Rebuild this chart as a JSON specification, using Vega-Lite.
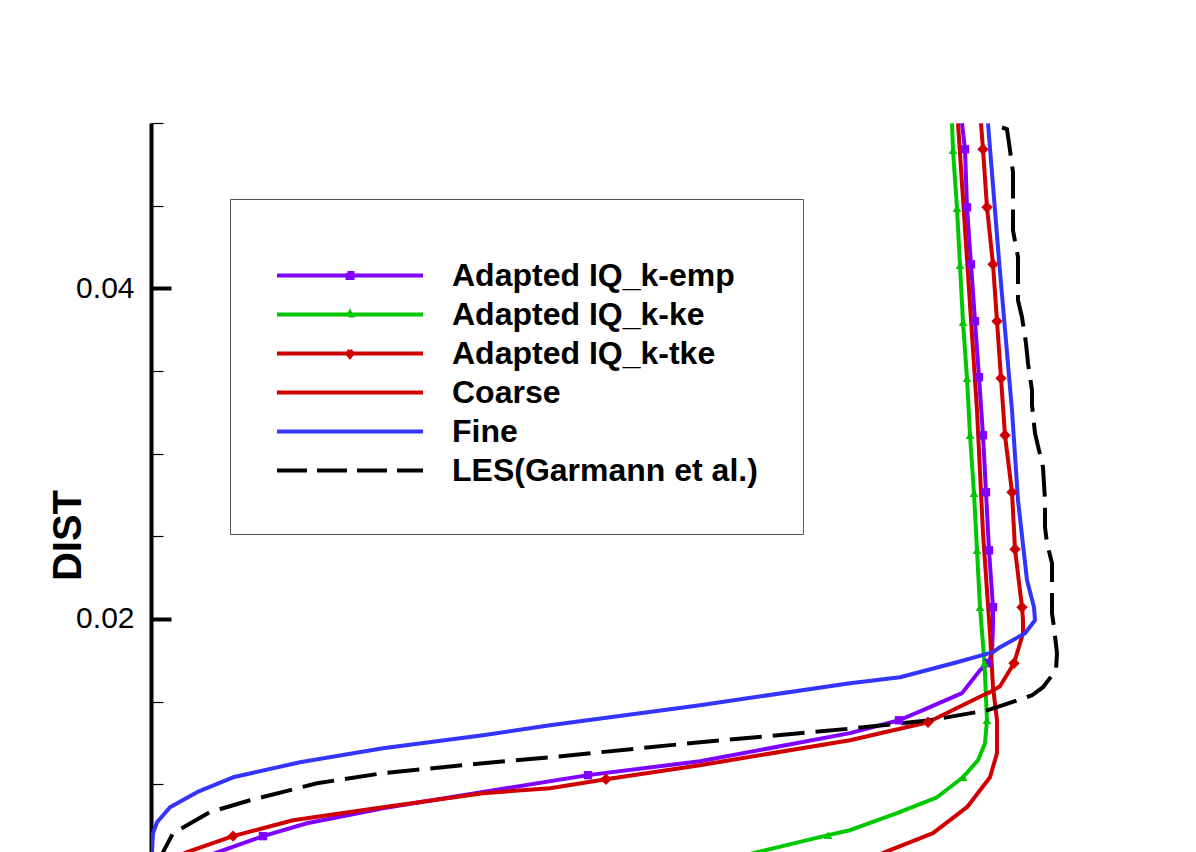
{
  "$schema": "https://vega.github.io/schema/vega-lite/v6.json",
  "width": 1045,
  "height": 729,
  "autosize": {"type": "none"},
  "padding": {"left": 151, "top": 123, "right": 0, "bottom": 0},
  "background": "white",
  "config": {"view": {"stroke": null}},
  "datasets": {
    "curves": [
      {"s": "Adapted IQ_k-emp", "x": 0.811, "y": 0.04998},
      {"s": "Adapted IQ_k-emp", "x": 0.814, "y": 0.04841},
      {"s": "Adapted IQ_k-emp", "x": 0.816, "y": 0.0449},
      {"s": "Adapted IQ_k-emp", "x": 0.82, "y": 0.04145},
      {"s": "Adapted IQ_k-emp", "x": 0.824, "y": 0.03801},
      {"s": "Adapted IQ_k-emp", "x": 0.828, "y": 0.03462},
      {"s": "Adapted IQ_k-emp", "x": 0.832, "y": 0.03111},
      {"s": "Adapted IQ_k-emp", "x": 0.835, "y": 0.02766},
      {"s": "Adapted IQ_k-emp", "x": 0.838, "y": 0.02415},
      {"s": "Adapted IQ_k-emp", "x": 0.842, "y": 0.02071},
      {"s": "Adapted IQ_k-emp", "x": 0.842, "y": 0.01962},
      {"s": "Adapted IQ_k-emp", "x": 0.841, "y": 0.01792},
      {"s": "Adapted IQ_k-emp", "x": 0.837, "y": 0.01732},
      {"s": "Adapted IQ_k-emp", "x": 0.829, "y": 0.0169},
      {"s": "Adapted IQ_k-emp", "x": 0.811, "y": 0.01551},
      {"s": "Adapted IQ_k-emp", "x": 0.772, "y": 0.01448},
      {"s": "Adapted IQ_k-emp", "x": 0.748, "y": 0.01387},
      {"s": "Adapted IQ_k-emp", "x": 0.699, "y": 0.01309},
      {"s": "Adapted IQ_k-emp", "x": 0.549, "y": 0.01139},
      {"s": "Adapted IQ_k-emp", "x": 0.437, "y": 0.01055},
      {"s": "Adapted IQ_k-emp", "x": 0.349, "y": 0.0097},
      {"s": "Adapted IQ_k-emp", "x": 0.232, "y": 0.00855},
      {"s": "Adapted IQ_k-emp", "x": 0.156, "y": 0.00764},
      {"s": "Adapted IQ_k-emp", "x": 0.112, "y": 0.00686},
      {"s": "Adapted IQ_k-emp", "x": 0.067, "y": 0.00589},
      {"s": "Adapted IQ_k-emp", "x": 0.039, "y": 0.00528},

      {"s": "Adapted IQ_k-ke", "x": 0.801, "y": 0.04998},
      {"s": "Adapted IQ_k-ke", "x": 0.802, "y": 0.04835},
      {"s": "Adapted IQ_k-ke", "x": 0.806, "y": 0.04484},
      {"s": "Adapted IQ_k-ke", "x": 0.809, "y": 0.04139},
      {"s": "Adapted IQ_k-ke", "x": 0.812, "y": 0.03795},
      {"s": "Adapted IQ_k-ke", "x": 0.816, "y": 0.03456},
      {"s": "Adapted IQ_k-ke", "x": 0.819, "y": 0.03111},
      {"s": "Adapted IQ_k-ke", "x": 0.823, "y": 0.0276},
      {"s": "Adapted IQ_k-ke", "x": 0.826, "y": 0.02415},
      {"s": "Adapted IQ_k-ke", "x": 0.829, "y": 0.02071},
      {"s": "Adapted IQ_k-ke", "x": 0.8335, "y": 0.01732},
      {"s": "Adapted IQ_k-ke", "x": 0.836, "y": 0.01387},
      {"s": "Adapted IQ_k-ke", "x": 0.834, "y": 0.01248},
      {"s": "Adapted IQ_k-ke", "x": 0.827, "y": 0.01145},
      {"s": "Adapted IQ_k-ke", "x": 0.812, "y": 0.01042},
      {"s": "Adapted IQ_k-ke", "x": 0.786, "y": 0.00921},
      {"s": "Adapted IQ_k-ke", "x": 0.746, "y": 0.00825},
      {"s": "Adapted IQ_k-ke", "x": 0.699, "y": 0.00722},
      {"s": "Adapted IQ_k-ke", "x": 0.677, "y": 0.00692},
      {"s": "Adapted IQ_k-ke", "x": 0.606, "y": 0.00589},
      {"s": "Adapted IQ_k-ke", "x": 0.569, "y": 0.00528},

      {"s": "Adapted IQ_k-tke", "x": 0.83, "y": 0.04998},
      {"s": "Adapted IQ_k-tke", "x": 0.832, "y": 0.04841},
      {"s": "Adapted IQ_k-tke", "x": 0.836, "y": 0.0449},
      {"s": "Adapted IQ_k-tke", "x": 0.842, "y": 0.04145},
      {"s": "Adapted IQ_k-tke", "x": 0.846, "y": 0.03801},
      {"s": "Adapted IQ_k-tke", "x": 0.85, "y": 0.03456},
      {"s": "Adapted IQ_k-tke", "x": 0.854, "y": 0.03111},
      {"s": "Adapted IQ_k-tke", "x": 0.861, "y": 0.02766},
      {"s": "Adapted IQ_k-tke", "x": 0.864, "y": 0.02421},
      {"s": "Adapted IQ_k-tke", "x": 0.871, "y": 0.02071},
      {"s": "Adapted IQ_k-tke", "x": 0.872, "y": 0.01992},
      {"s": "Adapted IQ_k-tke", "x": 0.872, "y": 0.01913},
      {"s": "Adapted IQ_k-tke", "x": 0.867, "y": 0.01811},
      {"s": "Adapted IQ_k-tke", "x": 0.863, "y": 0.01732},
      {"s": "Adapted IQ_k-tke", "x": 0.849, "y": 0.01593},
      {"s": "Adapted IQ_k-tke", "x": 0.839, "y": 0.01557},
      {"s": "Adapted IQ_k-tke", "x": 0.832, "y": 0.01538},
      {"s": "Adapted IQ_k-tke", "x": 0.777, "y": 0.01375},
      {"s": "Adapted IQ_k-tke", "x": 0.699, "y": 0.01266},
      {"s": "Adapted IQ_k-tke", "x": 0.549, "y": 0.01115},
      {"s": "Adapted IQ_k-tke", "x": 0.455, "y": 0.0103},
      {"s": "Adapted IQ_k-tke", "x": 0.399, "y": 0.00976},
      {"s": "Adapted IQ_k-tke", "x": 0.332, "y": 0.00946},
      {"s": "Adapted IQ_k-tke", "x": 0.232, "y": 0.00861},
      {"s": "Adapted IQ_k-tke", "x": 0.142, "y": 0.00782},
      {"s": "Adapted IQ_k-tke", "x": 0.082, "y": 0.00686},
      {"s": "Adapted IQ_k-tke", "x": 0.036, "y": 0.00589},
      {"s": "Adapted IQ_k-tke", "x": 0.014, "y": 0.00528},

      {"s": "Coarse", "x": 0.807, "y": 0.04998},
      {"s": "Coarse", "x": 0.826, "y": 0.03262},
      {"s": "Coarse", "x": 0.832, "y": 0.02518},
      {"s": "Coarse", "x": 0.839, "y": 0.01913},
      {"s": "Coarse", "x": 0.842, "y": 0.01587},
      {"s": "Coarse", "x": 0.846, "y": 0.01387},
      {"s": "Coarse", "x": 0.846, "y": 0.01188},
      {"s": "Coarse", "x": 0.839, "y": 0.01042},
      {"s": "Coarse", "x": 0.816, "y": 0.00861},
      {"s": "Coarse", "x": 0.782, "y": 0.00704},
      {"s": "Coarse", "x": 0.739, "y": 0.00601},
      {"s": "Coarse", "x": 0.709, "y": 0.00528},

      {"s": "Fine", "x": 0.837, "y": 0.04998},
      {"s": "Fine", "x": 0.848, "y": 0.0417},
      {"s": "Fine", "x": 0.861, "y": 0.03262},
      {"s": "Fine", "x": 0.867, "y": 0.02718},
      {"s": "Fine", "x": 0.876, "y": 0.02234},
      {"s": "Fine", "x": 0.883, "y": 0.02071},
      {"s": "Fine", "x": 0.884, "y": 0.01992},
      {"s": "Fine", "x": 0.874, "y": 0.01913},
      {"s": "Fine", "x": 0.849, "y": 0.01829},
      {"s": "Fine", "x": 0.842, "y": 0.01799},
      {"s": "Fine", "x": 0.806, "y": 0.01738},
      {"s": "Fine", "x": 0.749, "y": 0.01647},
      {"s": "Fine", "x": 0.699, "y": 0.01611},
      {"s": "Fine", "x": 0.549, "y": 0.01478},
      {"s": "Fine", "x": 0.399, "y": 0.01357},
      {"s": "Fine", "x": 0.332, "y": 0.01296},
      {"s": "Fine", "x": 0.232, "y": 0.01218},
      {"s": "Fine", "x": 0.149, "y": 0.01133},
      {"s": "Fine", "x": 0.082, "y": 0.01042},
      {"s": "Fine", "x": 0.046, "y": 0.00952},
      {"s": "Fine", "x": 0.019, "y": 0.00861},
      {"s": "Fine", "x": 0.006, "y": 0.0077},
      {"s": "Fine", "x": 0.002, "y": 0.00704},
      {"s": "Fine", "x": 0.001, "y": 0.00589},
      {"s": "Fine", "x": 0.0005, "y": 0.0048},

      {"s": "LES(Garmann et al.)", "x": 0.851, "y": 0.04974},
      {"s": "LES(Garmann et al.)", "x": 0.856, "y": 0.04962},
      {"s": "LES(Garmann et al.)", "x": 0.859, "y": 0.04835},
      {"s": "LES(Garmann et al.)", "x": 0.862, "y": 0.04702},
      {"s": "LES(Garmann et al.)", "x": 0.862, "y": 0.04351},
      {"s": "LES(Garmann et al.)", "x": 0.867, "y": 0.04188},
      {"s": "LES(Garmann et al.)", "x": 0.867, "y": 0.03928},
      {"s": "LES(Garmann et al.)", "x": 0.871, "y": 0.03825},
      {"s": "LES(Garmann et al.)", "x": 0.875, "y": 0.03668},
      {"s": "LES(Garmann et al.)", "x": 0.877, "y": 0.03547},
      {"s": "LES(Garmann et al.)", "x": 0.881, "y": 0.03383},
      {"s": "LES(Garmann et al.)", "x": 0.881, "y": 0.03293},
      {"s": "LES(Garmann et al.)", "x": 0.884, "y": 0.03123},
      {"s": "LES(Garmann et al.)", "x": 0.892, "y": 0.02917},
      {"s": "LES(Garmann et al.)", "x": 0.894, "y": 0.02718},
      {"s": "LES(Garmann et al.)", "x": 0.894, "y": 0.02555},
      {"s": "LES(Garmann et al.)", "x": 0.896, "y": 0.02458},
      {"s": "LES(Garmann et al.)", "x": 0.901, "y": 0.02337},
      {"s": "LES(Garmann et al.)", "x": 0.901, "y": 0.02034},
      {"s": "LES(Garmann et al.)", "x": 0.903, "y": 0.0195},
      {"s": "LES(Garmann et al.)", "x": 0.906, "y": 0.01792},
      {"s": "LES(Garmann et al.)", "x": 0.905, "y": 0.0169},
      {"s": "LES(Garmann et al.)", "x": 0.892, "y": 0.01587},
      {"s": "LES(Garmann et al.)", "x": 0.881, "y": 0.01538},
      {"s": "LES(Garmann et al.)", "x": 0.837, "y": 0.01448},
      {"s": "LES(Garmann et al.)", "x": 0.779, "y": 0.01387},
      {"s": "LES(Garmann et al.)", "x": 0.704, "y": 0.01339},
      {"s": "LES(Garmann et al.)", "x": 0.549, "y": 0.01254},
      {"s": "LES(Garmann et al.)", "x": 0.399, "y": 0.01163},
      {"s": "LES(Garmann et al.)", "x": 0.332, "y": 0.01127},
      {"s": "LES(Garmann et al.)", "x": 0.232, "y": 0.01067},
      {"s": "LES(Garmann et al.)", "x": 0.166, "y": 0.01006},
      {"s": "LES(Garmann et al.)", "x": 0.099, "y": 0.00903},
      {"s": "LES(Garmann et al.)", "x": 0.059, "y": 0.00831},
      {"s": "LES(Garmann et al.)", "x": 0.036, "y": 0.00752},
      {"s": "LES(Garmann et al.)", "x": 0.022, "y": 0.00704},
      {"s": "LES(Garmann et al.)", "x": 0.012, "y": 0.00589},
      {"s": "LES(Garmann et al.)", "x": 0.007, "y": 0.0048}
    ],
    "markers": [
      {"s": "Adapted IQ_k-emp", "x": 0.814, "y": 0.04841},
      {"s": "Adapted IQ_k-emp", "x": 0.816, "y": 0.0449},
      {"s": "Adapted IQ_k-emp", "x": 0.82, "y": 0.04145},
      {"s": "Adapted IQ_k-emp", "x": 0.824, "y": 0.03801},
      {"s": "Adapted IQ_k-emp", "x": 0.828, "y": 0.03462},
      {"s": "Adapted IQ_k-emp", "x": 0.832, "y": 0.03111},
      {"s": "Adapted IQ_k-emp", "x": 0.835, "y": 0.02766},
      {"s": "Adapted IQ_k-emp", "x": 0.838, "y": 0.02415},
      {"s": "Adapted IQ_k-emp", "x": 0.842, "y": 0.02071},
      {"s": "Adapted IQ_k-emp", "x": 0.837, "y": 0.01732},
      {"s": "Adapted IQ_k-emp", "x": 0.748, "y": 0.01387},
      {"s": "Adapted IQ_k-emp", "x": 0.437, "y": 0.01055},
      {"s": "Adapted IQ_k-emp", "x": 0.112, "y": 0.00686},
      {"s": "Adapted IQ_k-ke", "x": 0.802, "y": 0.04835},
      {"s": "Adapted IQ_k-ke", "x": 0.806, "y": 0.04484},
      {"s": "Adapted IQ_k-ke", "x": 0.809, "y": 0.04139},
      {"s": "Adapted IQ_k-ke", "x": 0.812, "y": 0.03795},
      {"s": "Adapted IQ_k-ke", "x": 0.816, "y": 0.03456},
      {"s": "Adapted IQ_k-ke", "x": 0.819, "y": 0.03111},
      {"s": "Adapted IQ_k-ke", "x": 0.823, "y": 0.0276},
      {"s": "Adapted IQ_k-ke", "x": 0.826, "y": 0.02415},
      {"s": "Adapted IQ_k-ke", "x": 0.829, "y": 0.02071},
      {"s": "Adapted IQ_k-ke", "x": 0.8335, "y": 0.01732},
      {"s": "Adapted IQ_k-ke", "x": 0.836, "y": 0.01387},
      {"s": "Adapted IQ_k-ke", "x": 0.812, "y": 0.01042},
      {"s": "Adapted IQ_k-ke", "x": 0.677, "y": 0.00692},
      {"s": "Adapted IQ_k-tke", "x": 0.832, "y": 0.04841},
      {"s": "Adapted IQ_k-tke", "x": 0.836, "y": 0.0449},
      {"s": "Adapted IQ_k-tke", "x": 0.842, "y": 0.04145},
      {"s": "Adapted IQ_k-tke", "x": 0.846, "y": 0.03801},
      {"s": "Adapted IQ_k-tke", "x": 0.85, "y": 0.03456},
      {"s": "Adapted IQ_k-tke", "x": 0.854, "y": 0.03111},
      {"s": "Adapted IQ_k-tke", "x": 0.861, "y": 0.02766},
      {"s": "Adapted IQ_k-tke", "x": 0.864, "y": 0.02421},
      {"s": "Adapted IQ_k-tke", "x": 0.871, "y": 0.02071},
      {"s": "Adapted IQ_k-tke", "x": 0.863, "y": 0.01732},
      {"s": "Adapted IQ_k-tke", "x": 0.777, "y": 0.01375},
      {"s": "Adapted IQ_k-tke", "x": 0.455, "y": 0.0103},
      {"s": "Adapted IQ_k-tke", "x": 0.082, "y": 0.00686}
    ]
  },
  "resolve": {"axis": {"y": "independent"}},
  "layer": [
    {
      "data": {"name": "curves"},
      "transform": [{"filter": "datum.s !== 'LES(Garmann et al.)'"}],
      "mark": {"type": "line", "strokeWidth": 4, "clip": true, "strokeJoin": "round"},
      "encoding": {
        "x": {"field": "x", "type": "quantitative", "scale": {"domain": [0, 1.045], "nice": false, "zero": false}, "axis": null},
        "y": {
          "field": "y", "type": "quantitative",
          "scale": {"domain": [0.0059, 0.05], "nice": false, "zero": false},
          "axis": {
            "orient": "left", "values": [0.02, 0.04], "format": ".2f",
            "labelFont": "Liberation Sans", "labelFontSize": 30, "labelColor": "#000000", "labelPadding": 17,
            "ticks": false, "grid": false,
            "domain": true, "domainColor": "#000000", "domainWidth": 4,
            "title": "DIST", "titleFont": "Liberation Sans", "titleFontSize": 40, "titleFontWeight": "bold", "titleColor": "#000000",
            "titleAngle": -90, "titleX": -71, "titleY": 412, "titleAlign": "center", "titleBaseline": "alphabetic"
          }
        },
        "color": {
          "field": "s", "type": "nominal",
          "scale": {
            "domain": ["Adapted IQ_k-emp", "Adapted IQ_k-ke", "Adapted IQ_k-tke", "Coarse", "Fine", "LES(Garmann et al.)"],
            "range": ["#7f00ff", "#00c800", "#d00000", "#d00000", "#3434ff", "#000000"]
          },
          "legend": {
            "orient": "none", "legendX": 79, "legendY": 76,
            "title": " ", "titleFontSize": 2, "titlePadding": 11,
            "padding": 45, "strokeColor": "#555555", "fillColor": "#ffffff",
            "labelFont": "Liberation Sans", "labelFontSize": 32, "labelFontWeight": "bold", "labelColor": "#000000",
            "labelLimit": 0, "labelOffset": 27,
            "symbolType": "stroke", "symbolSize": 21316, "symbolStrokeWidth": 4,
            "clipHeight": 37, "rowPadding": 2,
            "encode": {
              "symbols": {
                "update": {
                  "shape": {"signal": "datum.value === 'Adapted IQ_k-emp' ? 'M-1,0H1M-0.034,-0.034H0.034V0.034H-0.034Z' : datum.value === 'Adapted IQ_k-ke' ? 'M-1,0H1M-0.02,0.015L0,-0.025L0.02,0.015Z' : datum.value === 'Adapted IQ_k-tke' ? 'M-1,0H1M0,-0.045L0.035,0L0,0.045L-0.035,0Z' : 'M-1,0H1'"},
                  "fill": {"signal": "scale('color', datum.value)"},
                  "stroke": {"signal": "scale('color', datum.value)"},
                  "strokeDash": {"signal": "datum.value === 'LES(Garmann et al.)' ? [30, 10] : [1000, 0]"},
                  "strokeWidth": {"value": 4},
                  "opacity": {"value": 1}
                }
              }
            }
          }
        },
        "order": {"field": "y", "type": "quantitative", "sort": "descending"}
      }
    },
    {
      "data": {"name": "curves"},
      "transform": [{"filter": "datum.s === 'LES(Garmann et al.)'"}],
      "mark": {"type": "line", "strokeWidth": 4, "clip": true, "strokeDash": [32, 11]},
      "encoding": {
        "x": {"field": "x", "type": "quantitative", "axis": null},
        "y": {
          "field": "y", "type": "quantitative",
          "axis": {
            "orient": "left", "values": [0.01, 0.015, 0.025, 0.03, 0.035, 0.045, 0.05],
            "labels": false, "domain": false, "grid": false, "title": null,
            "ticks": true, "tickSize": 12, "offset": -12, "tickWidth": 1.2, "tickColor": "#000000"
          }
        },
        "color": {"field": "s", "type": "nominal"},
        "order": {"field": "y", "type": "quantitative", "sort": "descending"}
      }
    },
    {
      "data": {"name": "markers"},
      "transform": [{"filter": "datum.s === 'Adapted IQ_k-emp'"}],
      "mark": {"type": "point", "shape": "square", "filled": true, "size": 70, "opacity": 1, "clip": true},
      "encoding": {
        "x": {"field": "x", "type": "quantitative", "axis": null},
        "y": {
          "field": "y", "type": "quantitative",
          "axis": {
            "orient": "left", "values": [0.02, 0.04],
            "labels": false, "domain": false, "grid": false, "title": null,
            "ticks": true, "tickSize": 20, "offset": -20, "tickWidth": 4, "tickColor": "#000000"
          }
        },
        "color": {"field": "s", "type": "nominal"}
      }
    },
    {
      "data": {"name": "markers"},
      "transform": [{"filter": "datum.s === 'Adapted IQ_k-ke'"}],
      "mark": {"type": "point", "shape": "triangle-up", "filled": true, "size": 75, "opacity": 1, "clip": true},
      "encoding": {
        "x": {"field": "x", "type": "quantitative", "axis": null},
        "y": {"field": "y", "type": "quantitative", "axis": null},
        "color": {"field": "s", "type": "nominal"}
      }
    },
    {
      "data": {"name": "markers"},
      "transform": [{"filter": "datum.s === 'Adapted IQ_k-tke'"}],
      "mark": {"type": "point", "shape": "diamond", "filled": true, "size": 130, "opacity": 1, "clip": true},
      "encoding": {
        "x": {"field": "x", "type": "quantitative", "axis": null},
        "y": {"field": "y", "type": "quantitative", "axis": null},
        "color": {"field": "s", "type": "nominal"}
      }
    }
  ]
}
